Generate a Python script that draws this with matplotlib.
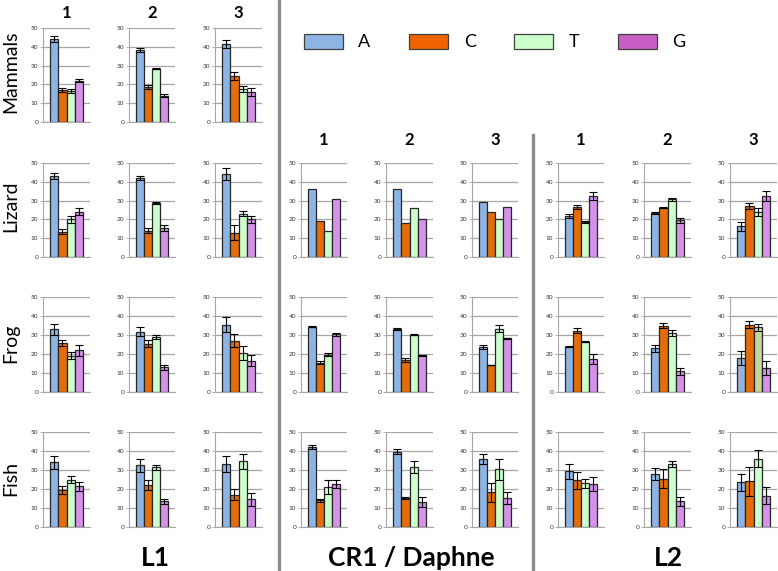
import matplotlib
matplotlib.use("Agg")
import matplotlib.pyplot as plt
from matplotlib.patches import Patch
from matplotlib.lines import Line2D

plt.rcParams['font.family'] = ['Lato', 'DejaVu Sans']

bases = ["A", "C", "T", "G"]
rows = ["Mammals", "Lizard", "Frog", "Fish"]
groups = ["L1", "CR1 / Daphne", "L2"]

# L1: rows Mammals, Lizard, Frog, Fish; panels 1,2,3; bars A,C,T,G
l1_mean = [
    [[44, 17, 16.5, 22], [38.5, 18.5, 28.3, 14], [41.5, 24.5, 17.5, 16]],
    [[43, 13.5, 20, 24], [42, 14, 28.7, 15.5], [44, 13, 23, 20]],
    [[33, 25.8, 19, 22], [31.8, 25.5, 28.8, 13], [35.5, 27, 20.5, 16.5]],
    [[34, 19.5, 25, 21.5], [32.5, 22, 31.5, 13.5], [33, 17, 34.5, 14.5]],
]
l1_err = [
    [[1.5, 1, 1, 0.7], [1, 1, 0.3, 0.7], [2.3, 2, 1.5, 2]],
    [[1.5, 1.2, 1.8, 1.8], [1, 1.2, 0.6, 1.5], [3.2, 3.8, 1.3, 2]],
    [[3, 1.8, 1.8, 2.8], [2.5, 2, 1, 1.3], [4, 3.5, 3.8, 3]],
    [[3.5, 2.3, 2, 2.3], [3.3, 2.5, 1.3, 1.5], [4.3, 3, 3.8, 3.3]],
]

# CR1 / Daphne: rows Lizard, Frog, Fish (Lizard has no error bars)
cr1_mean = [
    [[36, 19, 14, 31], [36.3, 18.3, 26.3, 20], [29.5, 24.2, 20, 26.5]],
    [[34.3, 15.5, 19.5, 30.5], [33.3, 17, 30.2, 19.3], [23.7, 14.3, 33.3, 28.2]],
    [[42, 14, 21, 22.5], [39.5, 15.2, 31.5, 13.2], [35.8, 18.2, 30.3, 15.2]],
]
cr1_err = [
    None,
    [[0.3, 1, 0.8, 0.8], [0.6, 1, 0.3, 0.2], [1.3, 0, 1.8, 0.3]],
    [[1, 1, 3.5, 2], [1.3, 0.5, 3, 2.5], [2.5, 5, 5.5, 3.3]],
]

# L2: rows Lizard, Frog, Fish
l2_mean = [
    [[22, 26.5, 18.8, 32.5], [23.2, 26.3, 30.8, 19.5], [16.3, 27, 24, 32.3]],
    [[23.8, 32.3, 26.5, 17.3], [23, 35, 31, 11], [18, 35.5, 34, 12.8]],
    [[29.3, 24.7, 23, 22.7], [28, 25.5, 33, 13.5], [23.5, 24, 36, 16.5]],
]
l2_err = [
    [[1, 1, 0.5, 2], [0.5, 0.5, 0.8, 1.3], [2.5, 1.5, 2, 2.7]],
    [[0.3, 1.5, 0.2, 2.5], [1.8, 1.5, 1.5, 1.8], [3.8, 1.8, 2, 3.7]],
    [[4, 4.5, 2.3, 3.5], [3, 5.2, 1.5, 2.3], [4.5, 7.5, 4.5, 4.3]],
]

bar_colors = ["#8eb4e3", "#e46c0a", "#ccffcc", "#d592e8"]
legend_colors = ["#8db4e2", "#f06400", "#ccffcc", "#c65ec6"]

W, H = 778, 571
fig = plt.figure(figsize=(W / 100, H / 100), dpi=100)

col_x = [[(43, 90), (129, 175), (215, 262)],
         [(301, 347), (386, 433), (472, 518)],
         [(558, 604), (644, 691), (730, 777)]]
row_y = [(28, 122), (163, 257), (297, 392), (432, 527)]


def px_axes(x0, x1, ytop, ybot):
    return fig.add_axes([x0 / W, 1 - ybot / H, (x1 - x0) / W, (ybot - ytop) / H])


def panel(ax, means, errs, colors):
    xs = range(4)
    ax.bar(xs, means, width=1.0, color=colors, edgecolor="#262626",
           linewidth=0.9, zorder=3)
    if errs is not None:
        ax.errorbar(xs, means, yerr=errs, fmt="none", ecolor="black",
                    elinewidth=0.8, capsize=2.6, capthick=0.8, zorder=4)
    ax.set_xlim(-1.35, 4.35)
    ax.set_ylim(0, 50)
    ax.set_yticks(range(0, 51, 10))
    ax.yaxis.grid(True, color="#a6a6a6", lw=0.9, zorder=0)
    ax.set_axisbelow(True)
    ax.set_xticks([])
    for s in ["top", "right"]:
        ax.spines[s].set_visible(False)
    ax.spines["left"].set_color("#a6a6a6")
    ax.spines["bottom"].set_color("#a6a6a6")
    ax.tick_params(axis="y", labelsize=4.6, length=2, width=0.6,
                   color="#a6a6a6", labelcolor="#333333", pad=1.5)


# L1 has all four rows
for r in range(4):
    for p in range(3):
        x0, x1 = col_x[0][p]
        ax = px_axes(x0, x1, *row_y[r])
        panel(ax, l1_mean[r][p], l1_err[r][p], bar_colors)

# CR1 and L2 have Lizard, Frog, Fish
for g, (means, errs) in enumerate([(cr1_mean, cr1_err), (l2_mean, l2_err)], start=1):
    for r in range(3):
        for p in range(3):
            x0, x1 = col_x[g][p]
            ax = px_axes(x0, x1, *row_y[r + 1])
            e = None if errs[r] is None else errs[r][p]
            cols = list(bar_colors)
            if g == 2 and r == 1 and p == 2:
                cols[0] = "#95b3d7"
                cols[2] = "#c3d69b"
            panel(ax, means[r][p], e, cols)

# panel numbers
for g in range(3):
    base_y = 18 if g == 0 else 145
    for p in range(3):
        x0, x1 = col_x[g][p]
        fig.text((x0 + x1) / 2 / W, 1 - base_y / H, str(p + 1), ha="center",
                 va="baseline", fontsize=12, fontweight="bold")

# row labels
row_cy = [72, 206, 343, 479]
for name, cy in zip(rows, row_cy):
    fig.text(11 / W, 1 - cy / H, name, rotation=90, ha="center", va="center",
             fontsize=14)

# group labels
group_cx = [155, 411, 668]
for name, cx in zip(groups, group_cx):
    fig.text(cx / W, 1 - 566 / H, name, ha="center", va="baseline",
             fontsize=19, fontweight="bold")

# separators
fig.add_artist(Line2D([279 / W, 279 / W], [0, 1], color="#8c8c8c", lw=2.4))
fig.add_artist(Line2D([533 / W, 533 / W], [0, 1 - 135 / H], color="#8c8c8c", lw=2.4))

# legend
handles = [Patch(facecolor=c, edgecolor="#404040", linewidth=0.9, label=b)
           for b, c in zip(bases, legend_colors)]
fig.legend(handles=handles, ncol=4, loc="center left",
           bbox_to_anchor=(304 / W, 1 - 42 / H), frameon=False, fontsize=13,
           handlelength=2.16, handleheight=0.94, handletextpad=0.85,
           columnspacing=2.15, borderpad=0, borderaxespad=0)

fig.savefig("out.png", dpi=100)
